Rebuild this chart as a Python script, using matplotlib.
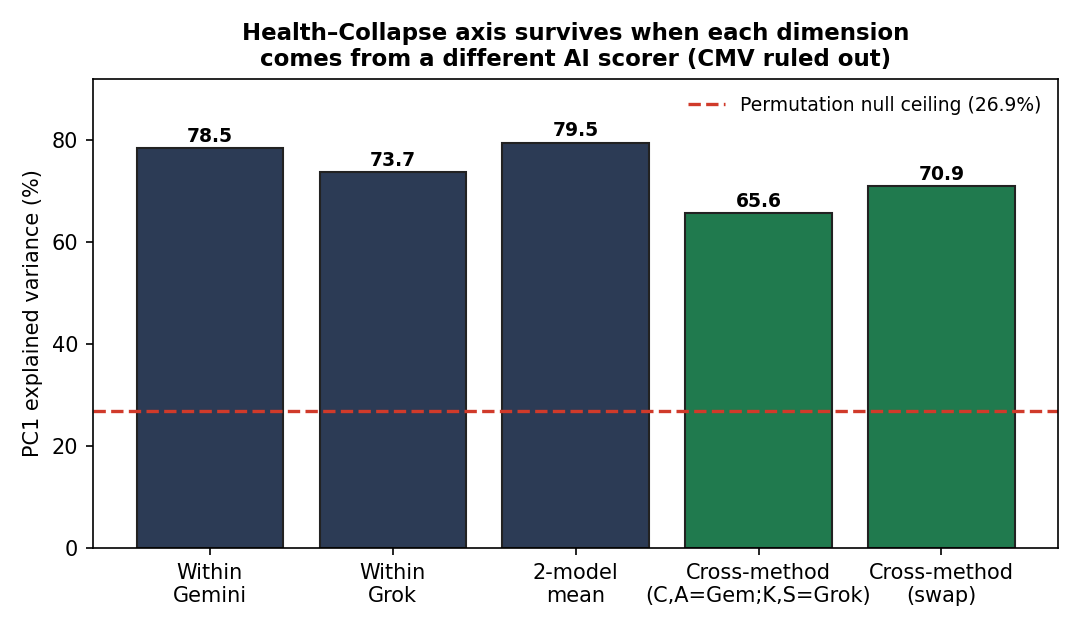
import matplotlib
matplotlib.use("Agg")
import matplotlib.pyplot as plt

labels = ["Within\nGemini", "Within\nGrok", "2-model\nmean",
          "Cross-method\n(C,A=Gem;K,S=Grok)", "Cross-method\n(swap)"]
values = [78.5, 73.7, 79.5, 65.6, 70.9]
colors = ["#2c3b55", "#2c3b55", "#2c3b55", "#207a4e", "#207a4e"]
null_ceiling = 26.9

fig, ax = plt.subplots(figsize=(7.2, 4.2), dpi=150)
bars = ax.bar(range(len(values)), values, width=0.8, color=colors,
              edgecolor="#222222", linewidth=1.0)
for b, v in zip(bars, values):
    ax.text(b.get_x() + b.get_width() / 2, v + 0.4, f"{v:.1f}",
            ha="center", va="bottom", fontsize=9, fontweight="bold")

ax.axhline(null_ceiling, color="#d03a2a", linestyle="--", linewidth=1.6,
           label=f"Permutation null ceiling ({null_ceiling}%)")
ax.set_xticks(range(len(labels)))
ax.set_xticklabels(labels, fontsize=10)
ax.set_ylim(0, 92)
ax.set_ylabel("PC1 explained variance (%)", fontsize=10)
ax.set_title("Health\u2013Collapse axis survives when each dimension\n"
             "comes from a different AI scorer (CMV ruled out)",
             fontsize=11, fontweight="bold")
ax.legend(loc="upper right", frameon=False, fontsize=9)

fig.subplots_adjust(left=0.086, right=0.980, top=0.875, bottom=0.130)
fig.savefig("out.png")
